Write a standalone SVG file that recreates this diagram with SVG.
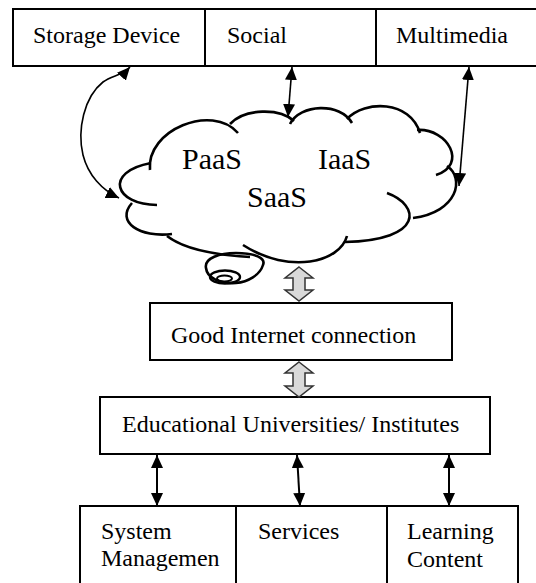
<svg xmlns="http://www.w3.org/2000/svg" width="536" height="583" viewBox="0 0 536 583">
<style>
.box{fill:#fff;stroke:#000;stroke-width:2}
.t{font-family:"Liberation Serif","Times New Roman",serif;font-size:24px;fill:#000}
.c{font-family:"Liberation Serif","Times New Roman",serif;font-size:30px;fill:#000}
.cl{fill:none;stroke:#000;stroke-width:2.6;stroke-linecap:butt}
.ar{fill:none;stroke:#000;stroke-width:1.6}
.blk{fill:#d9d9d9;stroke:#333;stroke-width:1.5;stroke-linejoin:miter}
</style>
<defs>
<marker id="ah" viewBox="0 0 13 12" refX="13" refY="6" markerWidth="13" markerHeight="12" markerUnits="userSpaceOnUse" orient="auto-start-reverse">
<path d="M0,0 L13,6 L0,12 z" fill="#000"/>
</marker>
</defs>
<rect width="536" height="583" fill="#fff"/>

<g id="storage">
<rect class="box" x="13" y="9" width="192" height="57"/>
<text class="t" x="33" y="43">Storage Device</text>
</g>
<g id="social">
<rect class="box" x="205" y="9" width="171" height="57"/>
<text class="t" x="227" y="43">Social</text>
</g>
<g id="multimedia">
<rect class="box" x="376" y="9" width="170" height="57"/>
<text class="t" x="396" y="43">Multimedia</text>
</g>

<g id="cloud">
<path d="M206,268 C204,258 220,253 236,253 C255,253 266,258 263,265 C260,275 248,282 236,283 C220,284 207,278 206,268 Z" fill="#fff" stroke="#000" stroke-width="2.6"/>
<ellipse cx="225" cy="277" rx="15" ry="6.5" fill="none" stroke="#000" stroke-width="2.4"/>
<ellipse cx="224.5" cy="278.5" rx="7.5" ry="3" fill="none" stroke="#000" stroke-width="2"/>
<path class="cl" d="M157,205 C115,205 103,172 151,163"/>
<path class="cl" d="M150,170 C146,130 212,103 238,133"/>
<path class="cl" d="M230,124 C245,108 280,108 294,121"/>
<path class="cl" d="M290,124 C300,104 340,102 352,123"/>
<path class="cl" d="M347,119 C365,100 410,100 420,133"/>
<path class="cl" d="M417,130 C448,128 468,165 436,175"/>
<path class="cl" d="M447,166 C465,178 458,212 413,218"/>
<path class="cl" d="M387,193 C420,205 425,240 345,242"/>
<path class="cl" d="M347,236 C340,262 290,275 243,245"/>
<path class="cl" d="M167,236 C185,250 215,255 250,257"/>
<path class="cl" d="M172,234 C140,238 115,222 132,203"/>
<text class="c" x="182" y="169">PaaS</text>
<text class="c" x="318" y="169">IaaS</text>
<text class="c" x="247" y="207">SaaS</text>
</g>

<g id="internet">
<rect class="box" x="150" y="303" width="302" height="57"/>
<text class="t" x="171" y="343">Good Internet connection</text>
</g>
<g id="universities">
<rect class="box" x="100" y="397" width="390" height="57"/>
<text class="t" x="122" y="432">Educational Universities/ Institutes</text>
</g>
<g id="system">
<rect class="box" x="80" y="506" width="156" height="90"/>
<text class="t" x="101" y="539">System</text>
<text class="t" x="101" y="566">Managemen</text>
</g>
<g id="services">
<rect class="box" x="236" y="506" width="151" height="90"/>
<text class="t" x="258" y="539">Services</text>
</g>
<g id="learning">
<rect class="box" x="387" y="506" width="131" height="90"/>
<text class="t" x="407" y="539">Learning</text>
<text class="t" x="407" y="567">Content</text>
</g>

<g id="connectors">
<path class="ar" d="M130,67 C122,76 112,75 103,82 C84,97 77,130 83,155 C88,175 102,190 119,198" marker-start="url(#ah)" marker-end="url(#ah)"/>
<path class="ar" d="M292,67 L288,117" marker-start="url(#ah)" marker-end="url(#ah)"/>
<path class="ar" d="M469,67 L459,186" marker-start="url(#ah)" marker-end="url(#ah)"/>
<polygon class="blk" points="299,267 313,278 305,278 305,290 313,290 299,301 285,290 293,290 293,278 285,278"/>
<polygon class="blk" points="299,362 313,373 305,373 305,386 313,386 299,397 285,386 293,386 293,373 285,373"/>
<path class="ar" style="stroke-width:2" d="M157,455 L157,506" marker-start="url(#ah)" marker-end="url(#ah)"/>
<path class="ar" style="stroke-width:2" d="M297,455 L300,506" marker-start="url(#ah)" marker-end="url(#ah)"/>
<path class="ar" style="stroke-width:2" d="M449,455 L449,506" marker-start="url(#ah)" marker-end="url(#ah)"/>
</g>
</svg>
